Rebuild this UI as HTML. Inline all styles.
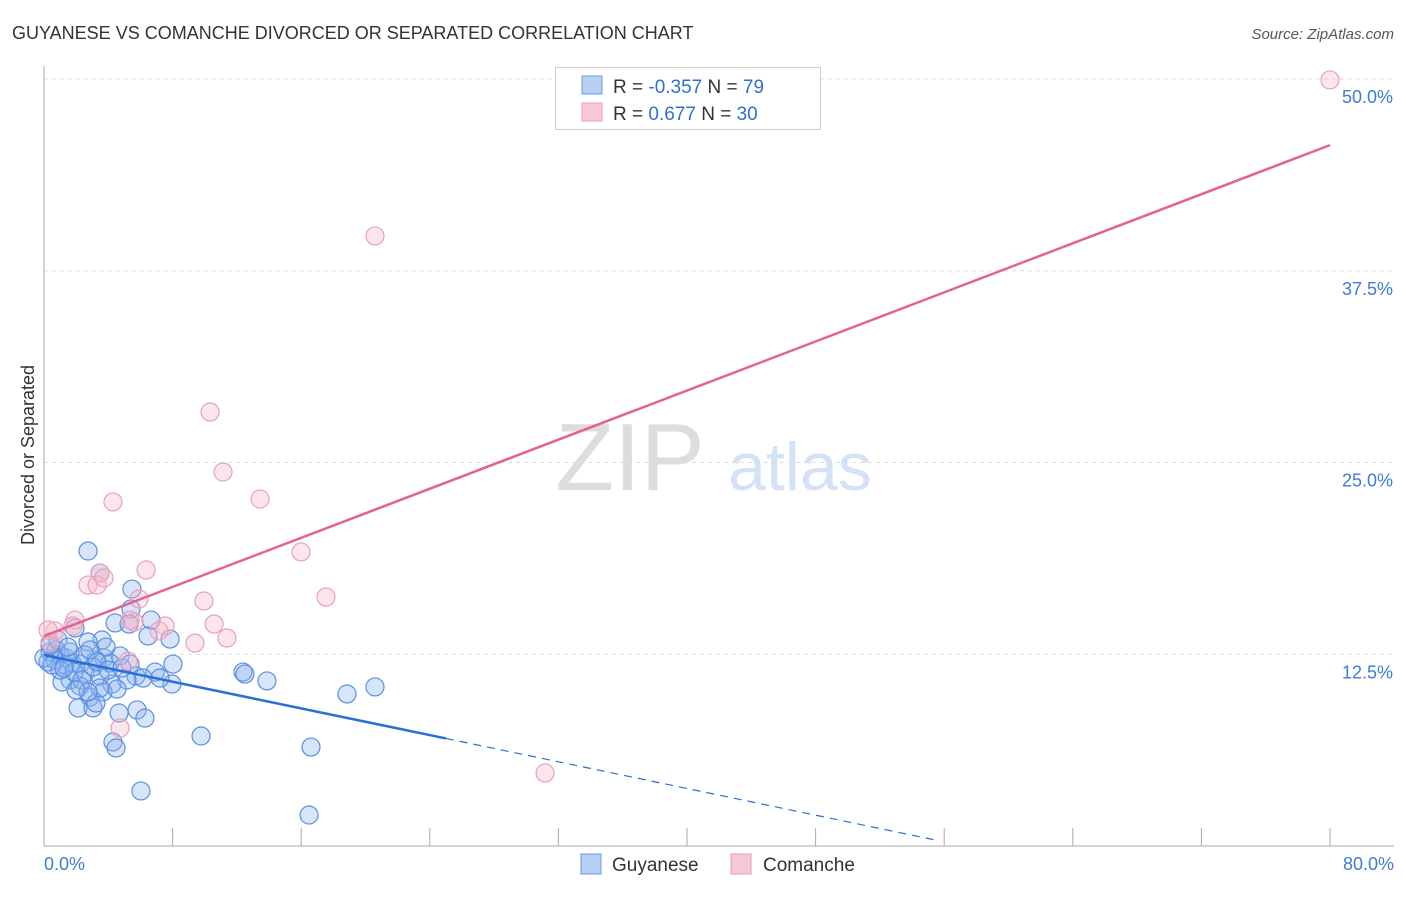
<!DOCTYPE html>
<html><head><meta charset="utf-8"><style>
body{margin:0;background:#fff;font-family:"Liberation Sans",sans-serif}
svg text{font-family:"Liberation Sans",sans-serif}
</style></head><body>
<svg id="c" width="1406" height="892">
<text x="12" y="39" font-size="18" fill="#333">GUYANESE VS COMANCHE DIVORCED OR SEPARATED CORRELATION CHART</text>
<text x="1394" y="39" font-size="15" fill="#555" font-style="italic" text-anchor="end">Source: ZipAtlas.com</text>
<text x="34" y="455" font-size="18" fill="#333" transform="rotate(-90 34 455)" text-anchor="middle">Divorced or Separated</text>
<text x="630" y="490" font-size="96" fill="#ddd" text-anchor="middle" font-family="Liberation Serif">ZIP</text>
<text x="800" y="490" font-size="68" fill="#d4e2f5" text-anchor="middle">atlas</text>
<g id="grid"></g><g id="pts"></g><g id="lines"></g>
<g>
<rect x="555.500" y="67.500" width="265" height="62" fill="#fff" stroke="#ccc"/>
<rect x="582" y="76" width="20" height="18" fill="#b8d0f5" stroke="#6d9be0"/>
<rect x="582" y="103" width="20" height="18" fill="#f9c8d8" stroke="#eb9ab5"/>
<text x="613" y="93" font-size="19" fill="#333">R = <tspan fill="#2f6fd4">-0.357</tspan>   N = <tspan fill="#2f6fd4">79</tspan></text>
<text x="613" y="120" font-size="19" fill="#333">R =  <tspan fill="#2f6fd4"> 0.677</tspan>   N = <tspan fill="#2f6fd4">30</tspan></text>
</g>
<g>
<rect x="581" y="854" width="20" height="20" fill="#b8d0f5" stroke="#6d9be0"/>
<text x="612" y="871" font-size="19" fill="#333">Guyanese</text>
<rect x="731" y="854" width="20" height="20" fill="#f9c8d8" stroke="#eb9ab5"/>
<text x="763" y="871" font-size="19" fill="#333">Comanche</text>
</g>
</svg>
<script>
const yTicks=[12.5,25,37.5,50];
const yTickLabels=["12.5%","25.0%","37.5%","50.0%"];
const xTicks=[0,8,16,24,32,40,48,56,64,72,80];
const xEndLabels=["0.0%","80.0%"];
const blueX=[2.74,3.48,5.47,5.41,4.42,5.29,6.66,6.47,7.84,3.61,2.74,1.93,3.73,4.73,3.23,1.0,0.37,0.68,1.31,2.24,4.11,5.35,8.02,6.91,5.72,6.16,5.16,7.96,2.55,1.62,1.12,2.24,3.48,4.23,3.67,2.86,4.54,2.12,3.05,3.23,5.79,4.67,6.28,9.77,4.29,4.48,12.38,12.5,13.87,18.85,20.59,16.61,6.03,16.49,0.25,0.75,1.37,1.74,2.55,3.05,3.86,1.0,1.62,0,0.37,0.5,0.87,1.49,1.87,2.36,2.86,3.3,3.98,4.85,7.22,3.48,2.74,1.99,1.24];
const blueY=[19.23,17.8,16.75,15.45,14.54,14.47,14.73,13.69,13.49,13.43,13.3,14.21,12.26,12.39,12.13,12.45,12.65,12.13,11.8,11.86,11.93,11.86,11.86,11.34,11.08,10.95,10.82,10.56,11.28,10.82,10.69,10.43,11.08,10.56,10.04,9.71,10.23,9.0,9.0,9.32,8.87,8.67,8.34,7.17,6.78,6.39,11.34,11.21,10.76,9.91,10.37,6.45,3.59,2.02,12.0,12.78,12.26,11.93,12.45,11.67,12.97,11.47,12.65,12.26,13.1,11.8,13.43,12.97,11.34,10.82,12.78,12.0,11.47,11.6,10.95,10.3,10.04,10.17,11.6];
const pinkX=[80.0,20.59,10.33,11.14,4.29,13.44,15.99,6.35,3.48,2.74,3.3,3.73,5.91,9.95,17.54,1.93,0.68,1.8,5.6,7.53,7.15,10.58,11.38,9.39,5.23,5.35,0.37,0.25,4.73,31.17];
const pinkY=[49.94,39.77,28.29,24.38,22.43,22.62,19.17,17.99,17.8,17.01,17.01,17.47,16.1,15.97,16.23,14.73,14.02,14.34,14.6,14.34,14.02,14.47,13.56,13.23,12.06,14.73,13.3,14.08,7.69,4.76];
const blueTrend=[12.45,-0.2175]; // intercept, slope
const pinkTrend=[13.69,0.4];
const blueSolidEnd=25, blueDashEnd=55.7, pinkEnd=80;
const NS="http://www.w3.org/2000/svg";
const X=v=>44+v*(1286/80), Y=v=>846-v*(767/50);
function mk(t,a,p){const e=document.createElementNS(NS,t);for(const k in a)e.setAttribute(k,a[k]);p.appendChild(e);return e;}
const grid=document.getElementById('grid');
yTicks.forEach((t,i)=>{
 const l=mk('line',{x1:44,x2:1394,y1:Y(t),y2:Y(t),stroke:'#ddd','stroke-dasharray':'4 4'},grid);
 
 
 const tx=mk('text',{x:1393,y:Y(t)+24,'font-size':18,fill:'#3f7bd6','text-anchor':'end'},grid);
 tx.textContent=yTickLabels[i];
 
 
});
const ax=mk('line',{x1:44,x2:1394,y1:846,y2:846,stroke:'#aaa'},grid);


const ay=mk('line',{x1:44,x2:44,y1:66,y2:846,stroke:'#aaa'},grid);


xTicks.forEach(t=>{
 const l=mk('line',{x1:X(t),x2:X(t),y1:828,y2:846,stroke:'#aaa'},grid);
 
 
});
const t0=mk('text',{x:44,y:870,'font-size':18,fill:'#3f7bd6'},grid);t0.textContent=xEndLabels[0];


const t1=mk('text',{x:1394,y:870,'font-size':18,fill:'#3f7bd6','text-anchor':'end'},grid);t1.textContent=xEndLabels[1];


const pts=document.getElementById('pts');
blueX.forEach((x,i)=>{
 const c=mk('circle',{cx:X(x),cy:Y(blueY[i]),r:9,fill:'rgba(140,180,240,0.35)',stroke:'#5a8fe0','stroke-width':1.2},pts);
 
 
});
pinkX.forEach((x,i)=>{
 const c=mk('circle',{cx:X(x),cy:Y(pinkY[i]),r:9,fill:'rgba(245,180,200,0.35)',stroke:'#eba0ba','stroke-width':1.2},pts);
 
 
});
const lg=document.getElementById('lines');
const bf=x=>blueTrend[0]+blueTrend[1]*x, pf=x=>pinkTrend[0]+pinkTrend[1]*x;
const b1=mk('line',{x1:X(0),y1:Y(bf(0)),x2:X(blueSolidEnd),y2:Y(bf(blueSolidEnd)),stroke:'#2a6fd6','stroke-width':2.5},lg);


const b2=mk('line',{x1:X(blueSolidEnd),y1:Y(bf(blueSolidEnd)),x2:X(blueDashEnd),y2:Y(bf(blueDashEnd)),stroke:'#2a6fd6','stroke-width':1.2,'stroke-dasharray':'8 6'},lg);


const p1=mk('line',{x1:X(0),y1:Y(pf(0)),x2:X(pinkEnd),y2:Y(pf(pinkEnd)),stroke:'#e4638e','stroke-width':2.5},lg);


</script>
</body></html>
